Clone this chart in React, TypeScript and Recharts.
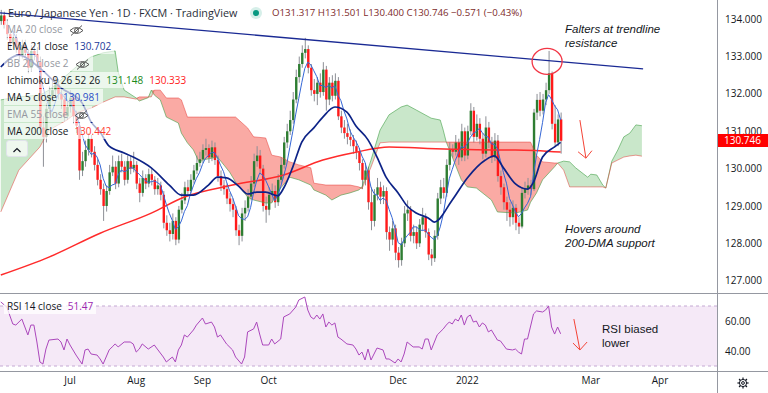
import React from 'react';
import {
  ComposedChart, Bar, Line, Area, XAxis, YAxis, ReferenceLine, ReferenceArea, ReferenceDot,
} from 'recharts';

// ---------- DATA ----------
// bar index 0 = 31 May 2021, one bar per weekday
const opens = [
  133.95,134.10,133.85,133.60,133.35,133.50,133.25,133.05,133.30,133.10,
  132.70,133.15,133.05,132.85,131.10,130.85,131.60,131.95,132.10,132.25,
  132.00,131.85,131.40,131.65,131.90,131.40,131.15,129.95,130.20,130.50,
  130.80,130.45,130.10,129.70,129.45,129.00,129.40,129.90,130.05,129.60,
  130.20,130.05,129.70,130.20,130.00,130.10,129.60,129.35,129.75,129.60,
  129.85,129.70,129.45,129.55,129.30,128.55,128.35,128.25,128.60,128.10,
  128.90,129.15,129.50,129.40,129.70,129.95,130.15,130.25,130.50,130.55,
  130.30,130.57,130.23,129.80,129.55,129.45,129.20,129.05,128.90,128.35,
  128.20,128.80,128.95,129.25,129.60,130.20,130.35,130.00,129.00,128.90,
  129.30,129.40,129.10,129.70,130.10,130.70,131.00,131.30,131.85,132.45,
  132.80,133.10,133.20,132.70,132.10,132.00,132.30,132.05,132.65,131.85,
  132.30,131.95,132.35,131.40,131.10,130.95,130.85,130.77,130.60,130.45,
  130.15,129.70,129.95,129.10,128.60,129.30,129.50,129.25,129.40,128.30,
  128.10,128.40,127.75,127.55,128.00,128.80,128.90,128.20,128.30,128.00,
  128.50,128.70,128.30,127.70,127.60,128.20,129.20,129.50,129.35,130.10,
  130.50,130.45,130.70,130.30,131.00,130.35,131.00,131.55,130.85,131.20,
  130.80,130.40,131.10,130.70,130.30,130.75,129.80,129.50,129.10,128.90,
  128.70,128.95,128.55,128.45,129.35,129.45,129.55,129.45,131.50,131.84,
  131.55,131.85,132.10,132.55,131.20,130.70,131.317,
];
const closes = [
  134.10,133.85,133.60,133.35,133.50,133.25,133.05,133.30,133.10,132.70,
  133.15,133.05,132.85,131.10,130.85,131.60,131.95,132.10,132.25,132.00,
  131.85,131.40,131.65,131.90,131.40,131.15,129.95,130.20,130.50,130.80,
  130.45,130.10,129.70,129.45,129.00,129.40,129.90,130.05,129.60,130.20,
  130.05,129.70,130.20,130.00,130.10,129.60,129.35,129.75,129.60,129.85,
  129.70,129.45,129.55,129.30,128.55,128.35,128.25,128.60,128.10,128.90,
  129.15,129.50,129.40,129.70,129.95,130.15,130.25,130.50,130.55,130.30,
  130.57,130.23,129.80,129.55,129.45,129.20,129.05,128.90,128.35,128.20,
  128.80,128.95,129.25,129.60,130.20,130.35,130.00,129.00,128.90,129.30,
  129.40,129.10,129.70,130.10,130.70,131.00,131.30,131.85,132.45,132.80,
  133.10,133.20,132.70,132.10,132.00,132.30,132.05,132.65,131.85,132.30,
  131.95,132.35,131.40,131.10,130.95,130.85,130.77,130.60,130.45,130.15,
  129.70,129.95,129.10,128.60,129.30,129.50,129.25,129.40,128.30,128.10,
  128.40,127.75,127.55,128.00,128.80,128.90,128.20,128.30,128.00,128.50,
  128.70,128.30,127.70,127.60,128.20,129.20,129.50,129.35,130.10,130.50,
  130.45,130.70,130.30,131.00,130.35,131.00,131.55,130.85,131.20,130.80,
  130.40,131.10,130.70,130.30,130.75,129.80,129.50,129.10,128.90,128.70,
  128.95,128.55,128.45,129.35,129.45,129.55,129.45,131.50,131.84,131.55,
  131.85,132.10,132.55,131.20,130.70,131.317,130.746,
];
const highs = [
  134.25,134.20,134.00,133.75,133.70,133.60,133.40,133.45,133.45,133.20,
  133.30,133.35,133.25,133.00,131.40,131.75,132.20,132.35,132.45,132.40,
  132.15,131.95,131.85,132.10,132.00,131.55,131.25,130.45,130.75,130.95,
  130.90,130.60,130.25,129.85,129.60,129.55,130.10,130.35,130.20,130.35,
  130.40,130.20,130.35,130.35,130.45,130.20,129.75,129.95,129.85,130.00,
  130.00,129.80,129.75,129.65,129.40,128.75,128.55,128.80,128.70,129.00,
  129.35,129.65,129.70,129.85,130.10,130.35,130.45,130.65,130.80,130.65,
  130.75,130.70,130.35,129.95,129.70,129.60,129.35,129.20,129.00,128.50,
  128.95,129.15,129.45,129.80,130.40,130.60,130.50,130.10,129.25,129.50,
  129.60,129.55,129.85,130.30,130.85,131.20,131.55,132.05,132.65,133.00,
  133.30,133.50,133.30,132.80,132.40,132.45,132.55,132.85,132.75,132.45,
  132.50,132.55,132.45,131.55,131.30,131.20,131.05,130.90,130.75,130.55,
  130.25,130.15,130.05,129.50,129.45,129.75,129.65,129.55,129.50,128.45,
  128.60,128.50,127.90,128.15,129.00,129.15,129.00,128.50,128.45,128.65,
  128.95,128.80,128.40,127.85,128.35,129.35,129.70,129.75,130.25,130.70,
  130.65,130.90,130.80,131.20,131.10,131.15,131.75,131.65,131.45,131.35,
  130.95,131.40,131.25,130.85,130.95,130.90,129.95,129.60,129.25,129.10,
  129.15,129.05,128.70,129.50,129.65,129.75,129.70,131.60,132.00,132.05,
  132.00,132.30,133.15,132.60,131.70,131.45,131.501,
];
const lows = [
  133.85,133.75,133.45,133.20,133.20,133.10,132.85,132.95,132.95,132.55,
  132.60,132.90,132.70,130.95,130.05,130.70,131.45,131.80,131.95,131.85,
  131.60,131.25,131.30,131.50,131.20,130.95,129.70,129.80,130.05,130.35,
  130.30,129.95,129.55,129.30,128.60,128.85,129.30,129.80,129.45,129.50,
  129.90,129.55,129.60,129.85,129.90,129.45,129.10,129.25,129.45,129.50,
  129.55,129.30,129.30,129.15,128.40,128.20,128.05,128.10,127.95,128.00,
  128.80,129.05,129.25,129.30,129.60,129.85,130.05,130.15,130.35,130.15,
  130.20,130.10,129.65,129.40,129.30,129.05,128.85,128.70,128.20,127.95,
  128.05,128.60,128.85,129.15,129.50,130.05,129.85,128.85,128.55,128.75,
  129.10,128.95,129.00,129.60,130.00,130.55,130.90,131.20,131.75,132.30,
  132.70,132.95,132.55,131.95,131.80,131.70,131.90,131.95,131.55,131.70,
  131.80,131.85,131.30,130.95,130.80,130.65,130.60,130.40,130.25,129.95,
  129.45,129.55,128.90,128.35,128.45,129.15,129.05,129.05,128.10,127.80,
  127.95,127.55,127.35,127.40,127.90,128.60,128.05,128.00,127.85,127.90,
  128.35,128.15,127.55,127.40,127.50,128.10,129.05,129.20,129.25,129.95,
  130.30,130.35,130.10,130.20,130.20,130.25,130.90,130.70,130.75,130.65,
  130.25,130.30,130.55,130.15,130.20,129.65,129.30,128.90,128.60,128.45,
  128.50,128.35,128.25,128.40,129.20,129.30,129.30,129.40,131.30,131.40,
  131.45,131.70,132.00,131.05,130.60,130.60,130.400,
];

const ema21Idx = [0,6,13,20,27,30,33,36,41,44,50,56,60,64,69,72,75,79,82,85,88,92,94,97,100,104,107,111,115,118,122,125,128,132,135,138,142,144,150,155,161,164,167,171,175,177,180,184,186];
const ema21Val = [132.72,133.04,132.69,132.16,131.76,131.25,130.98,130.60,130.42,130.31,130.02,129.56,129.29,129.29,129.56,129.77,129.75,129.53,129.32,129.37,129.37,129.27,129.48,130.04,130.71,131.09,131.38,131.65,131.51,131.14,130.77,130.31,129.77,129.35,129.00,128.81,128.68,128.57,129.16,129.75,130.23,130.34,130.02,129.59,129.45,129.64,130.31,130.58,130.702];

const ma200Idx = [0,16,33,50,61,77,94,107,118,129,139,150,163,171,186];
const ma200Val = [127.15,127.63,128.27,128.81,129.24,129.56,129.83,130.23,130.44,130.58,130.55,130.52,130.50,130.50,130.442];

const cloudIdx = [0,6,13,16,22,25,30,34,38,39,41,45,46,49,50,51,53,55,59,60,62,64,66,67,72,76,78,82,84,88,90,93,96,99,103,104,108,110,113,116,119,120,123,126,129,133,135,138,143,146,147,148,150,153,155,158,163,165,171,175,176,178,180,184,185,187,189,191,195,196,198,200,201,203,205,207,209,211,213];
const spanA = [131.84,131.92,131.97,132.10,132.51,132.72,132.99,133.10,133.15,132.59,132.10,131.89,131.81,131.90,132.10,131.97,131.84,131.38,131.22,130.95,130.69,130.50,130.15,130.23,130.31,129.91,129.64,129.24,129.16,129.08,129.08,129.48,129.77,129.70,129.56,129.43,129.29,129.16,129.29,129.35,129.43,129.51,130.23,131.03,131.44,131.65,131.70,131.57,131.35,131.30,131.03,130.71,130.31,129.70,129.51,129.48,129.16,128.84,128.81,128.89,129.10,129.35,129.70,130.05,130.15,130.20,130.18,130.02,129.77,129.85,129.83,129.56,129.48,130.20,130.50,130.85,130.95,131.17,131.148];
const spanB = [128.84,129.96,130.58,131.03,131.30,131.49,131.62,131.78,131.92,131.92,131.92,131.86,131.92,131.92,131.92,132.10,132.10,131.89,131.89,131.84,131.38,131.38,131.38,131.38,131.38,131.38,131.38,131.09,130.85,130.82,130.36,130.31,130.18,130.10,130.02,129.61,129.56,129.56,129.56,129.56,129.51,129.46,130.04,130.69,130.71,130.71,130.71,130.71,130.71,130.71,130.71,130.71,130.71,130.71,130.71,130.71,130.71,130.71,130.71,130.71,130.71,130.36,130.18,130.15,130.15,129.96,129.51,129.51,129.51,129.51,129.51,129.51,129.48,130.15,130.23,130.31,130.34,130.36,130.333];

const rsiIdx = [0,2,4,5,7,9,10,11,12,13,14,15,16,19,20,21,22,23,25,27,28,29,30,32,33,34,36,37,38,39,41,43,44,45,46,47,49,51,52,54,55,57,58,59,60,61,62,64,65,67,68,70,71,72,73,75,77,78,80,81,82,84,85,86,87,89,90,91,93,94,96,98,99,101,102,103,104,105,106,107,108,109,110,111,112,113,115,117,118,119,120,121,122,123,125,127,128,129,131,132,133,134,135,137,139,140,141,142,143,145,147,148,149,150,151,152,153,154,155,156,157,158,159,160,161,162,163,165,166,168,170,171,172,173,174,175,177,178,180,181,182,183,184,185,186];
const rsiVal = [72.7,69.3,58,57.3,61.3,50.7,57.3,57.3,46,32.7,31.3,41.3,47.3,48,46,40.7,48,44,37.3,31.3,40.7,41.3,38,37.3,34.7,31.3,40.7,42.7,44.7,42.7,46,46,44.7,39.3,41.3,44.7,41.3,44,41.3,36,32.7,36,32.7,40.7,44,50.7,49.3,54,57.3,62,58,59.3,56,49.3,50.7,44.7,40.7,36,31.3,36,52.7,54.7,59.3,51.3,44,44,48,44.7,48,62.7,64.7,69.3,74,76,67.3,62.7,61.3,64,61.3,64.7,56,59.3,57.3,58.7,49.3,48,44.7,44,41.3,37.3,39.3,34,41.3,34,42,40.7,34.7,34.7,32,34.7,32.7,38,46,42.7,42.7,41.3,48,48,40.7,50.7,54.7,57.3,59.3,58,61.3,60,64,57.3,62.7,64,59.3,60,56,58.7,57.3,52.7,54,47.3,46.7,41.3,40.7,41.3,39.3,38,48,48,64.7,66.7,66,67.3,70,56,51.3,56,51.47];

const priceTicks = [127, 128, 129, 130, 131, 132, 133, 134];
const rsiTicks = [40, 60];
const monthTicks = [23, 45, 67, 89, 132, 155, 196, 219];
const monthLabels = ['Jul', 'Aug', 'Sep', 'Oct', 'Dec', '2022', 'Mar', 'Apr'];

// trendline & annotation anchors (bar index, price / rsi)
const trendX = [-0.26, 213.4];
const trendY = [134.17, 132.67];
const circleAt = { x: 181.5, y: 132.87 };
const priceArrow = [[192.4, 131.30, 194.4, 130.28], [191.8, 130.45, 194.4, 130.28], [196.4, 130.48, 194.4, 130.28]];
const rsiArrow = [[190.4, 61.3, 192.4, 40.7], [190.1, 45.3, 192.4, 40.7], [194.8, 46.0, 192.4, 40.7]];

// ---------- LAYOUT CONSTANTS ----------
const X_DOMAIN: [number, number] = [-0.26, 237.95];
const P_DOMAIN: [number, number] = [126.67, 134.514];
const R_DOMAIN: [number, number] = [26.67, 78];
const FONT = "'Open Sans', 'Liberation Sans', sans-serif";
const NOTE_FONT = "'Liberation Sans', Arial, sans-serif";
const TXT = '#131722';

const Candle = (props: any) => {
  const { x, y, width, height, payload } = props;
  if (x == null || y == null || !payload) return null;
  const top = Math.min(y, y + height);
  const h = Math.abs(height);
  const { o, c, hi, lo } = payload;
  const ppu = h / (hi - lo || 1);
  const yO = top + (hi - o) * ppu;
  const yC = top + (hi - c) * ppu;
  const up = c >= o;
  const cx = x + width / 2;
  return (
    <g>
      <line x1={cx} x2={cx} y1={top} y2={top + h} stroke="#8d8f96" strokeWidth={1} />
      <rect x={cx - 1.2} y={Math.min(yO, yC)} width={2.4} height={Math.max(1, Math.abs(yC - yO))} fill={up ? '#2e7d32' : '#ff1a1a'} />
    </g>
  );
};

const EyeOff = () => (
  <svg width="15" height="11" viewBox="0 0 15 11" style={{ marginLeft: 6, verticalAlign: 'middle' }}>
    <path d="M1 5.5 Q7.5 -0.5 14 5.5 Q7.5 11.5 1 5.5 Z" fill="none" stroke="#555" strokeWidth="1" />
    <circle cx="7.5" cy="5.5" r="2" fill="none" stroke="#555" strokeWidth="1" />
    <line x1="2" y1="10.5" x2="13" y2="0.5" stroke="#555" strokeWidth="1" />
  </svg>
);

type Part = { t: string; c: string };
const legendRows: { y: number; parts: Part[]; eye?: boolean }[] = [
  { y: 29, parts: [{ t: 'MA 20 close', c: '#9598a1' }], eye: true },
  { y: 46, parts: [{ t: 'EMA 21 close', c: TXT }, { t: '130.702', c: '#1a3a9c' }] },
  { y: 63, parts: [{ t: 'BB 20 close 2', c: '#9598a1' }], eye: true },
  { y: 80, parts: [{ t: 'Ichimoku 9 26 52 26', c: TXT }, { t: '131.148', c: '#1b8a1b' }, { t: '130.333', c: '#ff1a1a' }] },
  { y: 97, parts: [{ t: 'MA 5 close', c: TXT }, { t: '130.981', c: '#2c50c8' }] },
  { y: 114, parts: [{ t: 'EMA 55 close', c: '#9598a1' }], eye: true },
  { y: 131, parts: [{ t: 'MA 200 close', c: TXT }, { t: '130.442', c: '#ff3b30' }] },
];

const lineCommon = { dot: false, activeDot: false, isAnimationActive: false, legendType: 'none' as const };

const Note = ({ left, top, lines, italic }: { left: number; top: number; lines: string[]; italic?: boolean }) => (
  <>
    {lines.map((t, k) => (
      <div key={k} style={{ position: 'absolute', left, top: top + k * 13.5, fontSize: 11.5, lineHeight: '13px', fontFamily: NOTE_FONT,
        fontStyle: italic ? 'italic' : 'normal', color: TXT, whiteSpace: 'nowrap' }}>{t}</div>
    ))}
  </>
);

export default function App() {
  const candles = closes.map((c, i) => ({ i, range: [lows[i], highs[i]], o: opens[i], c, hi: highs[i], lo: lows[i] }));
  const ma5: { i: number; v: number }[] = [];
  for (let i = 4; i < closes.length; i++) {
    const s = closes.slice(i - 4, i + 1).reduce((a, b) => a + b, 0);
    ma5.push({ i, v: s / 5 });
  }
  const ema21 = ema21Idx.map((i, k) => ({ i, v: ema21Val[k] }));
  const ma200 = ma200Idx.map((i, k) => ({ i, v: ma200Val[k] }));
  const cloud = cloudIdx.map((i, k) => {
    const a = spanA[k];
    const b = spanB[k];
    const m = Math.max(a, b);
    return { i, a, b, green: [b, m], red: [a, m] };
  });
  const rsi = rsiIdx.map((i, k) => ({ i, v: rsiVal[k] }));
  const monthMap: Record<number, string> = {};
  monthTicks.forEach((t, k) => { monthMap[t] = monthLabels[k]; });

  return (
    <div style={{ position: 'relative', width: 768, height: 393, background: '#fff', fontFamily: FONT, overflow: 'hidden' }}>
      <style>{'body{margin:0}'}</style>

      {/* price pane */}
      <div style={{ position: 'absolute', left: 0, top: 0 }}>
        <ComposedChart width={768} height={293} data={candles} margin={{ top: 0, right: 0, bottom: 0, left: 0 }}>
          <XAxis dataKey="i" type="number" domain={X_DOMAIN} hide />
          <YAxis orientation="right" width={51} domain={P_DOMAIN} ticks={priceTicks}
            tickFormatter={(v: number) => v.toFixed(3)} axisLine={false} tickLine={false}
            tick={{ fontSize: 10, fill: TXT, fontFamily: FONT }} />
          <Area data={cloud} dataKey={(d: any) => d.green} type="linear" stroke="none" fill="#4caf50" fillOpacity={0.3} {...lineCommon} />
          <Area data={cloud} dataKey={(d: any) => d.red} type="linear" stroke="none" fill="#f44336" fillOpacity={0.45} {...lineCommon} />
          <Line data={cloud} dataKey="a" type="linear" stroke="#43a047" strokeOpacity={0.6} strokeWidth={1} {...lineCommon} />
          <Line data={cloud} dataKey="b" type="linear" stroke="#e53935" strokeOpacity={0.5} strokeWidth={1} {...lineCommon} />
          <Bar dataKey="range" barSize={2} shape={(p: any) => <Candle {...p} />} isAnimationActive={false} legendType="none" />
          <Line data={ma200} dataKey="v" type="monotone" stroke="#ff2b2b" strokeWidth={1.5} {...lineCommon} />
          <Line data={ma5} dataKey="v" type="linear" stroke="#3567d6" strokeWidth={1} {...lineCommon} />
          <Line data={ema21} dataKey="v" type="monotone" stroke="#0d2387" strokeWidth={1.7} {...lineCommon} />
          <ReferenceLine segment={[{ x: trendX[0], y: trendY[0] }, { x: trendX[1], y: trendY[1] }]} stroke="#1a2a94" strokeWidth={1.3} ifOverflow="visible" />
          <ReferenceDot x={circleAt.x} y={circleAt.y} r={14} ifOverflow="visible"
            shape={(p: any) => <ellipse cx={p.cx} cy={p.cy} rx={15} ry={13} fill="none" stroke="#f23645" strokeWidth={1.3} />} />
          {priceArrow.map((s, k) => (
            <ReferenceLine key={'pa' + k} segment={[{ x: s[0], y: s[1] }, { x: s[2], y: s[3] }]} stroke="#f44336" strokeWidth={1} ifOverflow="visible" />
          ))}
        </ComposedChart>
      </div>

      {/* RSI pane */}
      <div style={{ position: 'absolute', left: 0, top: 293 }}>
        <ComposedChart width={768} height={100} data={rsi} margin={{ top: 1, right: 0, bottom: 0, left: 0 }}>
          <XAxis dataKey="i" type="number" domain={X_DOMAIN} ticks={monthTicks} interval={0}
            tickFormatter={(v: number) => monthMap[v] ?? ''} height={22} axisLine={false} tickLine={false} tickMargin={0}
            tick={{ fontSize: 10, fill: TXT, fontFamily: FONT }} />
          <YAxis orientation="right" width={51} domain={R_DOMAIN} ticks={rsiTicks}
            tickFormatter={(v: number) => v.toFixed(2)} axisLine={false} tickLine={false}
            tick={{ fontSize: 10, fill: TXT, fontFamily: FONT }} />
          <ReferenceArea y1={30} y2={70} fill="#9c27b0" fillOpacity={0.1} stroke="none" />
          <ReferenceLine y={70} stroke="#c4a9d3" strokeDasharray="3 3" />
          <ReferenceLine y={30} stroke="#c4a9d3" strokeDasharray="3 3" />
          <Line dataKey="v" type="linear" stroke="#ab47bc" strokeWidth={1} {...lineCommon} />
          {rsiArrow.map((s, k) => (
            <ReferenceLine key={'ra' + k} segment={[{ x: s[0], y: s[1] }, { x: s[2], y: s[3] }]} stroke="#f44336" strokeWidth={1} ifOverflow="visible" />
          ))}
        </ComposedChart>
      </div>

      {/* separators */}
      <div style={{ position: 'absolute', left: 0, top: 293, width: 768, height: 1, background: '#9598a1' }} />
      <div style={{ position: 'absolute', left: 0, top: 371, width: 768, height: 1, background: '#9598a1' }} />
      <div style={{ position: 'absolute', left: 717, top: 0, width: 1, height: 393, background: '#9598a1' }} />

      {/* last price tag */}
      <div style={{ position: 'absolute', left: 718, top: 134, width: 50, height: 13, background: '#ff0000', color: '#fff', fontSize: 10, lineHeight: '13px', paddingLeft: 6, boxSizing: 'border-box' }}>130.746</div>

      {/* header */}
      <div style={{ position: 'absolute', left: 8, top: 5, fontSize: 10.8, lineHeight: '16px', color: '#2a2e39', whiteSpace: 'nowrap' }}>
        Euro / Japanese Yen · 1D · FXCM · TradingView
      </div>
      <div style={{ position: 'absolute', left: 250, top: 7, width: 12, height: 12, borderRadius: 6, background: '#d6efe9' }} />
      <div style={{ position: 'absolute', left: 253, top: 10, width: 6, height: 6, borderRadius: 3, background: '#089981' }} />
      <div style={{ position: 'absolute', left: 272, top: 6, fontSize: 9.7, lineHeight: '14px', color: '#7d2b2b', whiteSpace: 'nowrap' }}>
        O131.317 H131.501 L130.400 C130.746 −0.571 (−0.43%)
      </div>

      {/* indicator legend */}
      {legendRows.map((r, k) => (
        <div key={k} style={{ position: 'absolute', left: 4, top: r.y - 8, height: 16, lineHeight: '16px', fontSize: 10, padding: '0 3px',
          background: 'rgba(255,255,255,0.65)', whiteSpace: 'nowrap' }}>
          {r.parts.map((p, j) => (
            <span key={j} style={{ color: p.c, marginLeft: j ? 6 : 0 }}>{p.t}</span>
          ))}
          {r.eye ? <EyeOff /> : null}
        </div>
      ))}
      <div style={{ position: 'absolute', left: 6, top: 140, width: 22, height: 17, border: '1px solid #e0e3eb', borderRadius: 3, background: 'rgba(255,255,255,0.7)', boxSizing: 'border-box' }}>
        <svg width="20" height="15" viewBox="0 0 20 15"><path d="M6.5 9 L10 5.5 L13.5 9" fill="none" stroke="#131722" strokeWidth="1.2" /></svg>
      </div>
      <div style={{ position: 'absolute', left: 4, top: 298, height: 16, lineHeight: '16px', fontSize: 10, padding: '0 3px', background: 'rgba(255,255,255,0.75)', whiteSpace: 'nowrap' }}>
        <span style={{ color: TXT }}>RSI 14 close</span><span style={{ color: '#9c27b0', marginLeft: 6 }}>51.47</span>
      </div>

      {/* annotations */}
      <Note left={565} top={23} lines={['Falters at trendline', 'resistance']} italic />
      <Note left={565} top={223} lines={['Hovers around', '200-DMA support']} italic />
      <Note left={602} top={323} lines={['RSI biased', 'lower']} />

      {/* settings gear */}
      <svg style={{ position: 'absolute', left: 736, top: 376 }} width="14" height="14" viewBox="0 0 14 14">
        <circle cx="7" cy="7" r="3.6" fill="none" stroke="#131722" strokeWidth="1" />
        <circle cx="7" cy="7" r="1.4" fill="none" stroke="#131722" strokeWidth="1" />
        {[0, 45, 90, 135, 180, 225, 270, 315].map((a) => (
          <line key={a} x1={7 + 3.6 * Math.cos((a * Math.PI) / 180)} y1={7 + 3.6 * Math.sin((a * Math.PI) / 180)}
            x2={7 + 5.6 * Math.cos((a * Math.PI) / 180)} y2={7 + 5.6 * Math.sin((a * Math.PI) / 180)} stroke="#131722" strokeWidth="1.2" />
        ))}
      </svg>
    </div>
  );
}
